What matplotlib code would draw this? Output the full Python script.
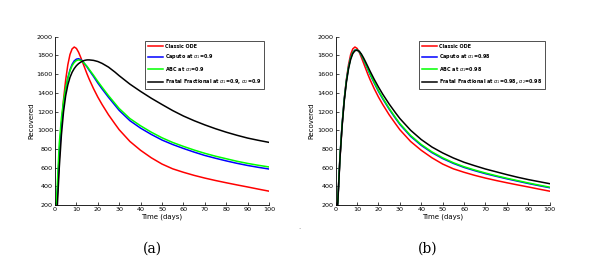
import matplotlib
matplotlib.use('Agg')
import matplotlib.pyplot as plt

# time points (days)
t = [0, 1, 2, 3, 4, 5, 6, 7, 8, 9, 10, 11, 12, 13, 14, 15, 16, 18, 20, 22, 25, 28, 30,
     35, 40, 45, 50, 55, 60, 65, 70, 75, 80, 85, 90, 95, 100]

# classic ODE (same in both panels)
classic = [0, 250, 700, 1050, 1330, 1540, 1700, 1810, 1870, 1890, 1875, 1835, 1780, 1720, 1660,
           1600, 1545, 1445, 1355, 1275, 1165, 1068, 1005, 880, 785, 705, 638, 587, 550, 517,
           488, 462, 438, 415, 393, 370, 348]

# panel (a): alpha = 0.9
caputo_a = [0, 280, 760, 1060, 1280, 1440, 1560, 1645, 1705, 1742, 1760, 1765, 1755, 1735, 1705,
            1675, 1640, 1575, 1505, 1442, 1352, 1268, 1212, 1102, 1022, 955, 895, 847, 805, 766,
            730, 700, 672, 646, 623, 603, 585]
abc_a = [0, 380, 860, 1130, 1315, 1450, 1555, 1635, 1690, 1725, 1745, 1752, 1748, 1733, 1708,
         1682, 1650, 1588, 1522, 1460, 1370, 1287, 1232, 1125, 1047, 979, 919, 869, 827, 788,
         753, 722, 695, 668, 645, 625, 607]
fractal_a = [0, 150, 600, 950, 1200, 1370, 1485, 1565, 1620, 1660, 1690, 1712, 1728, 1740, 1748,
             1752, 1752, 1747, 1735, 1715, 1675, 1622, 1583, 1493, 1415, 1342, 1275, 1210, 1152,
             1102, 1057, 1016, 979, 946, 916, 892, 870]

# panel (b): alpha = 0.98
caputo_b = [0, 240, 710, 1060, 1330, 1530, 1675, 1775, 1833, 1858, 1860, 1840, 1802, 1755, 1705,
            1652, 1600, 1505, 1415, 1335, 1225, 1125, 1062, 935, 838, 760, 697, 645, 602, 567,
            535, 507, 480, 455, 430, 407, 385]
abc_b = [0, 245, 712, 1058, 1325, 1525, 1670, 1770, 1830, 1855, 1858, 1842, 1806, 1760, 1711,
         1659, 1607, 1513, 1424, 1344, 1234, 1134, 1071, 944, 847, 768, 705, 652, 609, 574,
         542, 513, 486, 461, 436, 413, 391]
fractal_b = [0, 220, 690, 1040, 1310, 1510, 1655, 1757, 1820, 1850, 1856, 1845, 1815, 1775, 1730,
             1683, 1635, 1545, 1462, 1385, 1280, 1185, 1125, 1000, 900, 820, 757, 703, 657, 620,
             585, 555, 525, 497, 472, 450, 428]

xticks = [0, 10, 20, 30, 40, 50, 60, 70, 80, 90, 100]
yticks = [200, 400, 600, 800, 1000, 1200, 1400, 1600, 1800, 2000]

fig = plt.figure(figsize=(5.92, 2.65), dpi=100)
fig.patch.set_facecolor('white')

panels = [
    (0.0929, caputo_a, abc_a, fractal_a, '0.9', '(a)', 0.258),
    (0.5670, caputo_b, abc_b, fractal_b, '0.98', '(b)', 0.723),
]

for left, cap, abc, frac, alpha, tag, tagx in panels:
    ax = fig.add_axes([left, 0.2264, 0.3615, 0.635])
    ax.plot(t, classic, color='#ff0000', lw=1.1, label='Classic ODE')
    ax.plot(t, cap, color='#0000ff', lw=1.1, label=r'Caputo at $\alpha_1$=' + alpha)
    ax.plot(t, abc, color='#00ff00', lw=1.1, label=r'ABC at $\alpha_1$=' + alpha)
    ax.plot(t, frac, color='black', lw=1.1,
            label=r'Fratal Fractional at $\alpha_1$=' + alpha + r', $\alpha_2$=' + alpha)
    ax.set_xlim(0, 100)
    ax.set_ylim(200, 2000)
    ax.set_xticks(xticks)
    ax.set_yticks(yticks)
    ax.tick_params(direction='in', length=2, width=0.5, labelsize=4.6, pad=1.5)
    for s in ['top', 'right']:
        ax.spines[s].set_visible(False)
    for s in ['left', 'bottom']:
        ax.spines[s].set_linewidth(0.6)
    ax.set_xlabel('Time (days)', fontsize=5, labelpad=1)
    ax.set_ylabel('Recovered', fontsize=5, labelpad=2)
    leg = ax.legend(loc='upper right', fontsize=3.5, frameon=True, fancybox=False,
                    edgecolor='black', handlelength=3.0, handletextpad=0.4,
                    borderpad=0.6, labelspacing=0.75, borderaxespad=0.3,
                    bbox_to_anchor=(0.985, 0.985))
    leg.get_frame().set_linewidth(0.6)
    for txt in leg.get_texts():
        txt.set_fontweight('bold')
    fig.text(tagx, 0.06, tag, fontsize=10, family='DejaVu Serif',
             ha='center', va='center')

# small stray dot between panels
fig.text(0.505, 0.135, '.', fontsize=5, color='gray', ha='center')

fig.savefig('out.png', dpi=100)
